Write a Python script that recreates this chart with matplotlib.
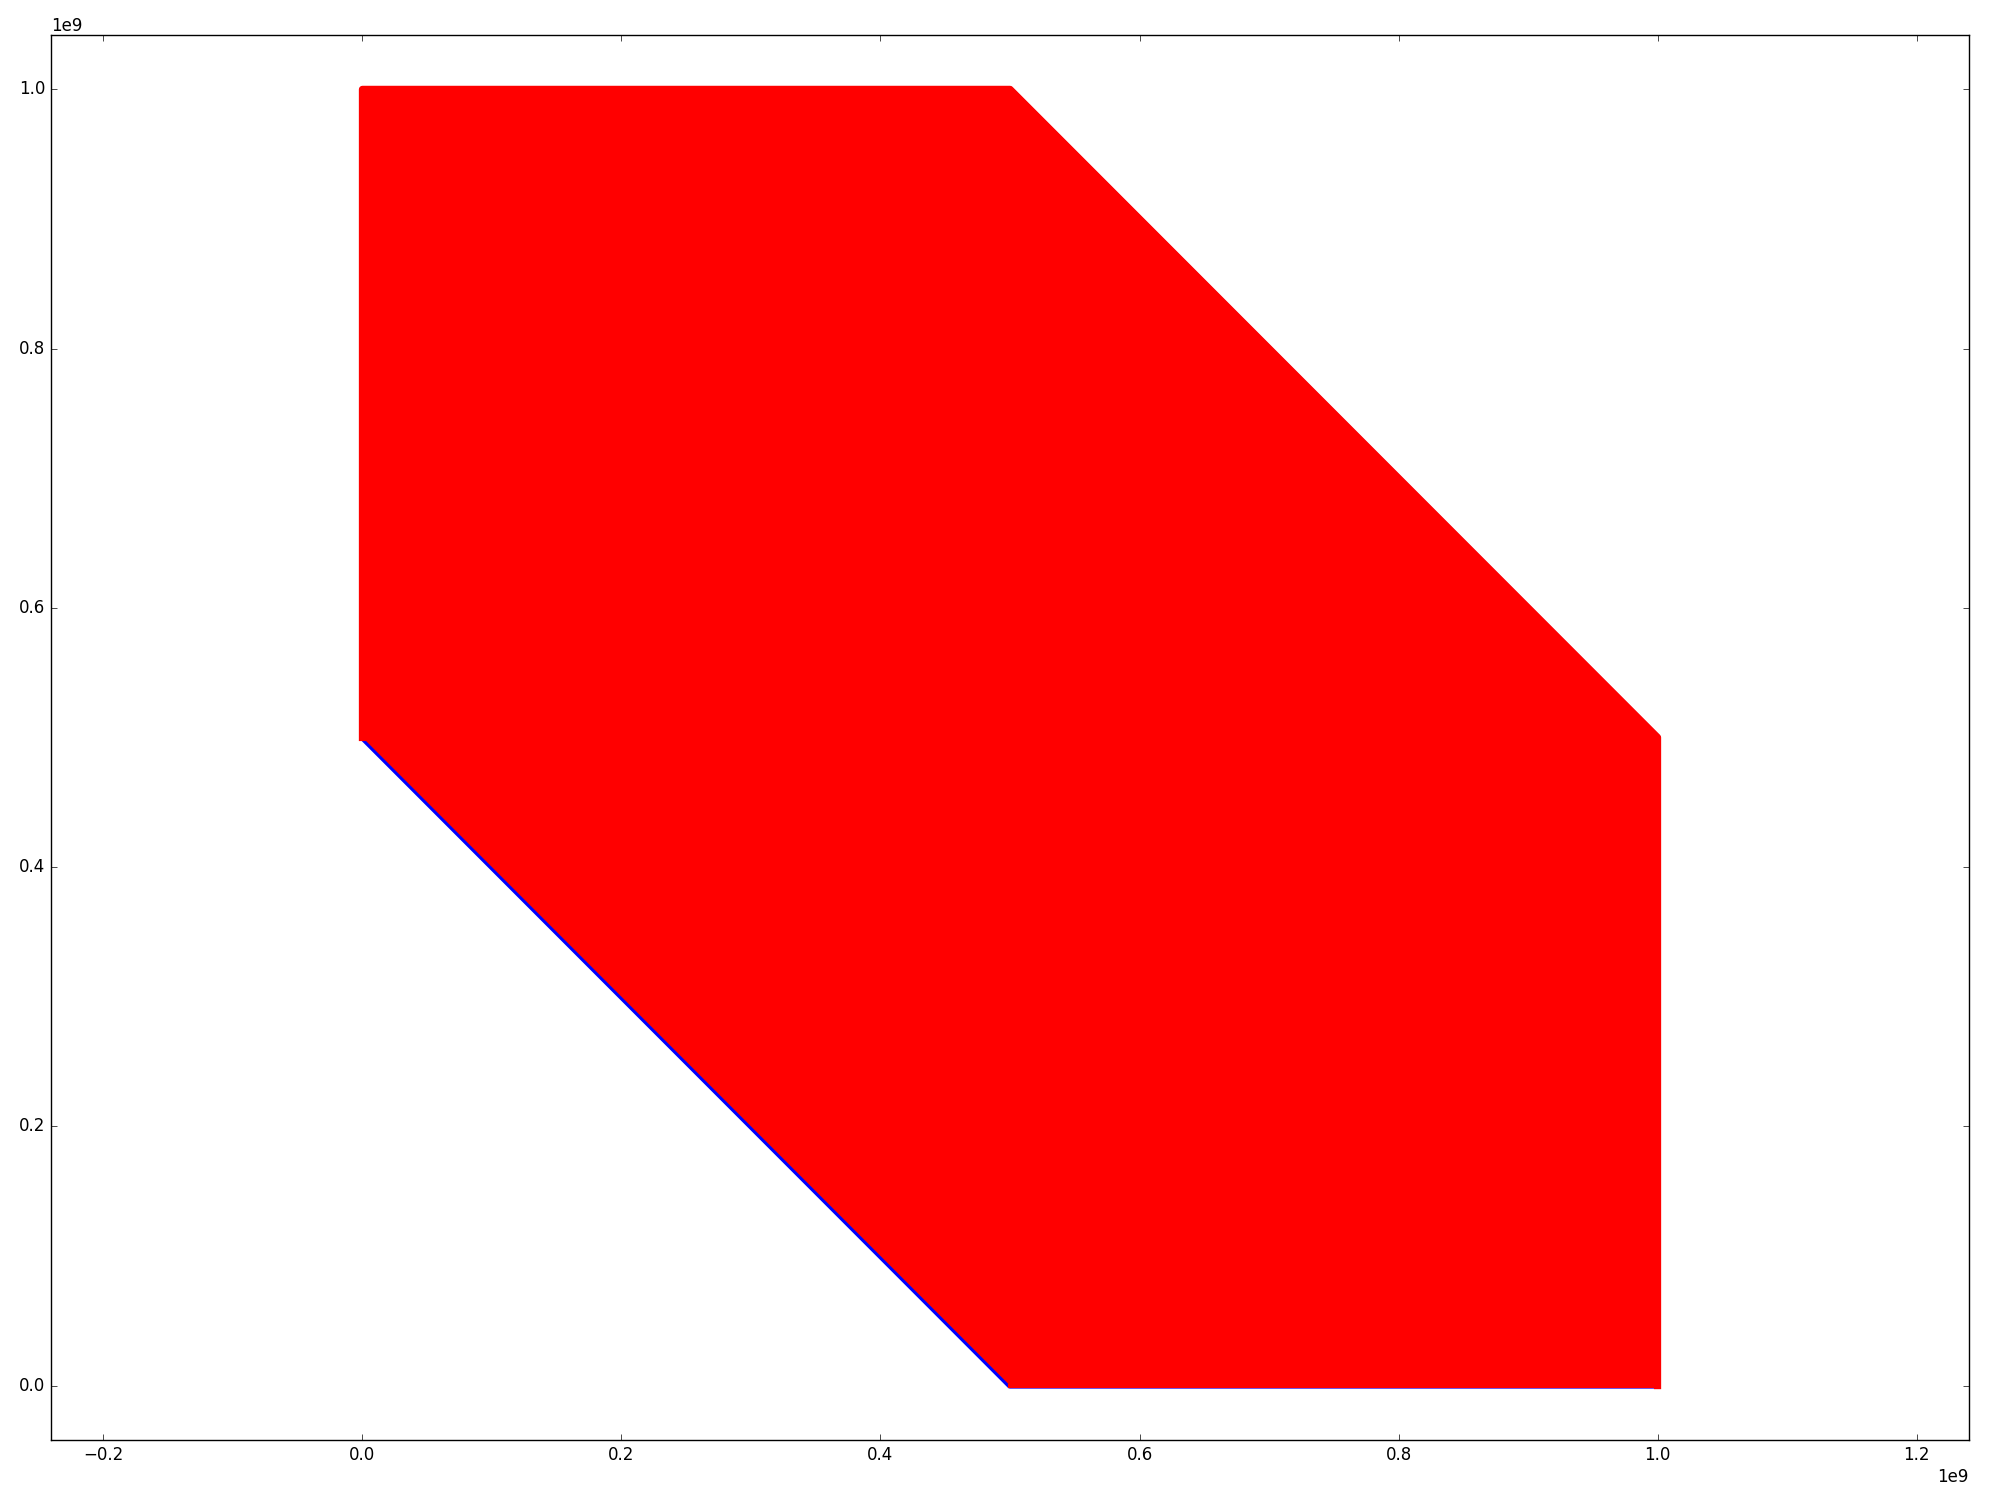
import matplotlib
matplotlib.use("Agg")
import matplotlib.pyplot as plt
from matplotlib.patches import Polygon

plt.style.use('classic')

# Region covered by each point cloud (vertices, in data units)
blue_x = [0.0, 0.0, 0.5e9, 1.0e9, 1.0e9, 0.5e9]
blue_y = [0.5e9, 1.0e9, 1.0e9, 0.5e9, 0.0, 0.0]
red_x = [0.0, 0.0, 0.5e9, 1.0e9, 1.0e9, 0.5e9]
red_y = [0.5e9, 1.0e9, 1.0e9, 0.5e9, 0.0, 0.0]

fig = plt.figure(figsize=(20, 15), dpi=100, facecolor='white')
ax = fig.add_axes([0.0255, 0.04, 0.959, 0.9367])
ax.set_facecolor('white')

# blue cloud (drawn first, underneath)
ax.add_patch(Polygon(list(zip(blue_x, blue_y)), closed=True,
                     facecolor='blue', edgecolor='blue', linewidth=4.4,
                     joinstyle='round', zorder=2))
# red cloud on top
ax.add_patch(Polygon(list(zip(red_x, red_y)), closed=True,
                     facecolor='red', edgecolor='none', linewidth=0, zorder=3))
# red points reach beyond the outer (upper/right) boundary
ax.plot([red_x[0], red_x[1], red_x[2], red_x[3], red_x[4]],
        [red_y[0], red_y[1], red_y[2], red_y[3], red_y[4]],
        color='red', linewidth=5.2, solid_joinstyle='round', zorder=4)
ax.plot([red_x[4], red_x[5]], [red_y[4], red_y[5]],
        color='red', linewidth=3.0, zorder=4)

ax.set_xlim(-0.2405e9, 1.2405e9)
ax.set_ylim(-0.042e9, 1.042e9)
ax.set_xticks([-0.2e9, 0.0, 0.2e9, 0.4e9, 0.6e9, 0.8e9, 1.0e9, 1.2e9])
ax.set_yticks([0.0, 0.2e9, 0.4e9, 0.6e9, 0.8e9, 1.0e9])

fig.savefig('out.png', dpi=100, facecolor='white')
